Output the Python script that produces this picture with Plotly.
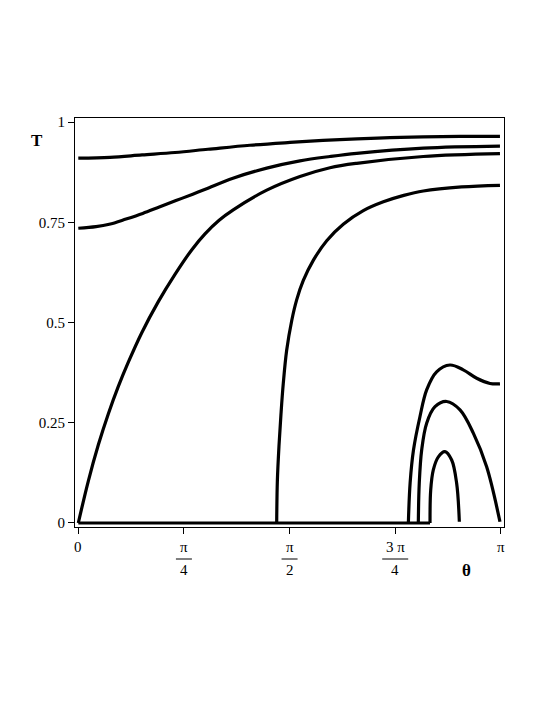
import math
import plotly.graph_objects as go

PI = math.pi

# ---- data ----
c1_x = [0.0, 0.236, 0.474, 0.719, 0.964, 1.276, 1.574, 1.819, 2.072, 2.317, 2.563, 2.838, 3.135]
c1_T = [0.910, 0.912, 0.918, 0.924, 0.932, 0.942, 0.949, 0.954, 0.958, 0.961, 0.963, 0.964, 0.964]

c2_x = [0.0, 0.132, 0.230, 0.355, 0.479, 0.602, 0.726, 0.851, 0.949, 1.150, 1.401,
        1.648, 1.871, 2.070, 2.565, 3.135]
c2_T = [0.735, 0.739, 0.745, 0.758, 0.772, 0.788, 0.804, 0.820, 0.833, 0.860, 0.885,
        0.903, 0.914, 0.922, 0.935, 0.940]

c3_x = [0.0, 0.074, 0.149, 0.223, 0.297, 0.372, 0.471, 0.595, 0.719, 0.843, 0.942,
        1.047, 1.152, 1.401, 1.648, 1.871, 2.070, 2.565, 3.135]
c3_T = [0.0, 0.104, 0.195, 0.272, 0.340, 0.401, 0.474, 0.552, 0.620, 0.681, 0.721,
        0.755, 0.781, 0.830, 0.864, 0.886, 0.897, 0.914, 0.921]

c4_x = [1.475, 1.480, 1.492, 1.507, 1.524, 1.549, 1.587, 1.624, 1.673, 1.747, 1.847,
        1.970, 2.119, 2.268, 2.420, 2.565, 2.850, 3.135]
c4_T = [0.0, 0.105, 0.192, 0.272, 0.348, 0.430, 0.505, 0.557, 0.605, 0.655, 0.704,
        0.745, 0.779, 0.801, 0.817, 0.828, 0.838, 0.842]

c5_x = [2.454, 2.467, 2.492, 2.540, 2.590, 2.664, 2.763, 2.862, 2.962, 3.061, 3.135]
c5_T = [0.0, 0.100, 0.182, 0.265, 0.332, 0.377, 0.394, 0.382, 0.361, 0.348, 0.347]

c6_x = [2.528, 2.535, 2.553, 2.590, 2.652, 2.739, 2.838, 2.937, 3.036, 3.135]
c6_T = [0.0, 0.099, 0.182, 0.249, 0.290, 0.303, 0.282, 0.224, 0.140, 0.003]

c7_x = [2.615, 2.620, 2.639, 2.677, 2.726, 2.776, 2.813, 2.833]
c7_T = [0.0, 0.082, 0.132, 0.165, 0.178, 0.157, 0.099, 0.003]

# zero branch of T (T = 0 up to each curve's onset)
zero_x = [0.0, 2.615]
zero_T = [0.0, 0.0]

y_tickvals = [0, 0.25, 0.5, 0.75, 1]
y_ticktext = ["0", "0.25", "0.5", "0.75", "1"]
x_tickvals = [0, PI / 4, PI / 2, 3 * PI / 4, PI]
x_num = ["0", "π", "π", "3 π", "π"]
x_den = [None, "4", "2", "4", None]

FONT = "Liberation Serif"
LW = 3.2

fig = go.Figure()
fig.add_trace(go.Scatter(x=zero_x, y=zero_T, mode="lines",
                         line=dict(color="black", width=LW)))
for xs, ts in [(c1_x, c1_T), (c2_x, c2_T), (c3_x, c3_T), (c4_x, c4_T),
               (c5_x, c5_T), (c6_x, c6_T), (c7_x, c7_T)]:
    fig.add_trace(go.Scatter(x=xs, y=ts, mode="lines",
                             line=dict(color="black", width=LW, shape="spline", smoothing=1.0)))

annotations = []
shapes = []
for xv, num, den in zip(x_tickvals, x_num, x_den):
    annotations.append(dict(x=xv, xref="x", y=0, yref="paper", yshift=-20,
                            xanchor="center", yanchor="middle",
                            text=num, showarrow=False,
                            font=dict(family=FONT, size=15, color="black")))
    if den is not None:
        annotations.append(dict(x=xv, xref="x", y=0, yref="paper", yshift=-43,
                                xanchor="center", yanchor="middle",
                                text=den, showarrow=False,
                                font=dict(family=FONT, size=15, color="black")))
        hw = 13 if len(num) > 1 else 8
        shapes.append(dict(type="line", xref="x", yref="paper",
                           xsizemode="pixel", xanchor=xv, x0=-hw, x1=hw,
                           ysizemode="pixel", yanchor=0, y0=-32, y1=-32,
                           line=dict(color="black", width=1)))

annotations.append(dict(x=2.883, xref="x", y=0, yref="paper", yshift=-43,
                        xanchor="center", yanchor="middle",
                        text="<b>θ</b>", showarrow=False,
                        font=dict(family=FONT, size=17, color="black")))
annotations.append(dict(x=0, xref="paper", xshift=-38, y=1, yref="y", yshift=-18,
                        xanchor="center", yanchor="middle",
                        text="<b>T</b>", showarrow=False,
                        font=dict(family=FONT, size=17, color="black")))

fig.update_layout(
    width=537, height=697,
    margin=dict(l=67, r=41, t=110, b=178),
    paper_bgcolor="white", plot_bgcolor="white",
    showlegend=False,
    annotations=annotations, shapes=shapes,
    xaxis=dict(range=[-0.0245, 3.165], tickvals=x_tickvals, showticklabels=False,
               ticks="outside", ticklen=6, tickcolor="black", tickwidth=1,
               showline=True, linecolor="black", linewidth=1, mirror=True,
               showgrid=False, zeroline=False),
    yaxis=dict(range=[-0.01, 1.01], tickvals=y_tickvals, ticktext=y_ticktext,
               ticks="outside", ticklen=6, tickcolor="black", tickwidth=1,
               tickfont=dict(family=FONT, size=15, color="black"),
               showline=True, linecolor="black", linewidth=1, mirror=True,
               showgrid=False, zeroline=False),
)

fig.write_html("out.html")
